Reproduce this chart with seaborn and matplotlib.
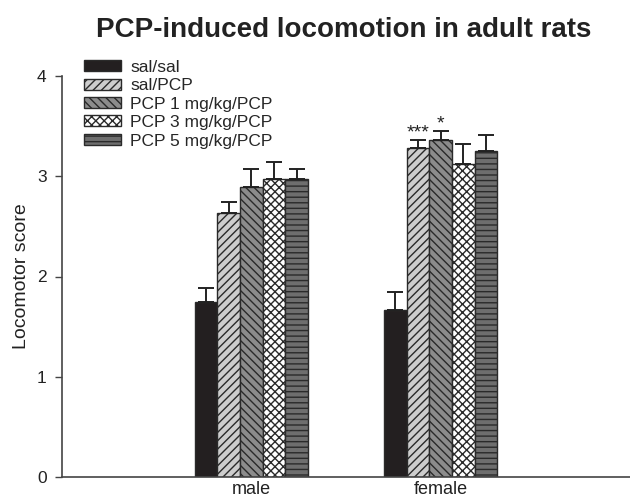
import numpy as np
import pandas as pd
import matplotlib
matplotlib.use("Agg")
import matplotlib.pyplot as plt
import seaborn as sns
from matplotlib.patches import Patch

# ---- data ----
sexes = ["male", "female"]
groups = ["sal/sal", "sal/PCP", "PCP 1 mg/kg/PCP", "PCP 3 mg/kg/PCP", "PCP 5 mg/kg/PCP"]
male_means = [1.75, 2.63, 2.89, 2.97, 2.97]
male_sem = [0.14, 0.11, 0.18, 0.17, 0.10]
female_means = [1.67, 3.28, 3.36, 3.12, 3.25]
female_sem = [0.18, 0.08, 0.09, 0.20, 0.16]
star_labels = {("female", "sal/PCP"): "***", ("female", "PCP 1 mg/kg/PCP"): "*"}

rows = []
for s, means, sems in [("male", male_means, male_sem), ("female", female_means, female_sem)]:
    for g, m, e in zip(groups, means, sems):
        rows.append({"sex": s, "group": g, "score": m, "err": e})
df = pd.DataFrame(rows)

faces = ["#231f20", "#cdcdcd", "#8c8c8c", "#ffffff", "#6e6e6e"]
hatches = ["", "////", "\\\\\\\\", "xxxx", "---"]
edge = "#2a2a2a"

sns.set_style("white")
plt.rcParams["font.family"] = ["Liberation Sans", "DejaVu Sans"]
plt.rcParams["hatch.linewidth"] = 1.0

fig = plt.figure(figsize=(6.3, 4.97), dpi=100)
ax = fig.add_axes([62 / 630, 20 / 497, 1 - 62 / 630, (477 - 76) / 497])

sns.barplot(data=df, x="sex", y="score", hue="group", order=sexes, hue_order=groups,
            width=0.6, errorbar=None, ax=ax, legend=False, saturation=1)

# style bars and add error bars (upper only)
containers = list(ax.containers)
for gi, cont in enumerate(containers):
    for si, bar in enumerate(list(cont.patches)):
        bar.set_facecolor(faces[gi])
        bar.set_edgecolor(edge)
        bar.set_linewidth(1.0)
        bar.set_hatch(hatches[gi])
        sub = df[(df["sex"] == sexes[si]) & (df["group"] == groups[gi])].iloc[0]
        m, e = float(sub["score"]), float(sub["err"])
        xc = bar.get_x() + bar.get_width() / 2
        ax.errorbar(xc, m, yerr=[[0], [e]], fmt="none", ecolor="#222222",
                    elinewidth=1.4, capsize=6, capthick=1.4, zorder=1)
        key = (sexes[si], groups[gi])
        if key in star_labels:
            ax.text(xc, m + e + 0.03, star_labels[key], ha="center",
                    va="baseline", fontsize=14, color="#222222")

ax.set_xlim(-1, 2)
ax.set_ylim(0, 4)
ax.set_yticks([0, 1, 2, 3, 4])
ax.set_xlabel("")
ax.set_ylabel("Locomotor score", fontsize=14, color="#222222", labelpad=5)
ax.tick_params(axis="y", direction="out", length=5, width=1, color="#444444",
               labelsize=12.5, labelcolor="#222222", pad=6, left=True)
ax.tick_params(axis="x", length=0, labelsize=13, labelcolor="#222222", pad=3)
for side in ["top", "right"]:
    ax.spines[side].set_visible(False)
for side in ["left", "bottom"]:
    ax.spines[side].set_color("#444444")
    ax.spines[side].set_linewidth(1.2)

handles = [Patch(facecolor=faces[i], edgecolor=edge, hatch=hatches[i], linewidth=1.0)
           for i in range(len(groups))]
ax.legend(handles, groups, loc="upper left", bbox_to_anchor=(0.027, 1.058), frameon=False,
          fontsize=12.5, handlelength=2.1, handleheight=0.6, labelspacing=0.2,
          handletextpad=0.55, borderaxespad=0)

fig.text(0.545, 0.939, "PCP-induced locomotion in adult rats", ha="center", va="center",
         fontsize=20, fontweight="bold", color="#222222")

fig.savefig("out.png", dpi=100)
